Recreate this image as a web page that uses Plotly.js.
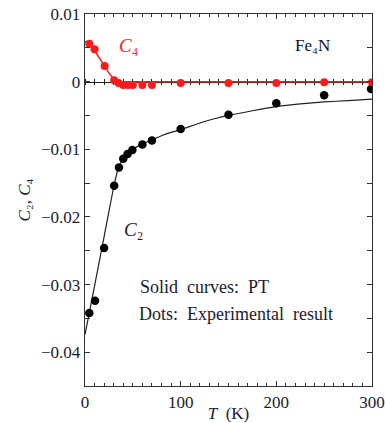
<!DOCTYPE html>
<html>
<head>
<meta charset="utf-8">
<script src="https://cdn.plot.ly/plotly-3.0.1.min.js"></script>
<style>html,body{margin:0;padding:0;background:#fff;}#chart{width:385px;height:423px;}</style>
</head>
<body>
<div id="chart"></div>
<script>
// Experimental dots
const c2T   = [4.5, 10.5, 20, 30.5, 35.5, 40, 44.5, 49.5, 60, 70, 100, 150, 200, 250, 299];
const c2Exp = [-0.0342, -0.0324, -0.0246, -0.0154, -0.0127, -0.0114, -0.0107, -0.0101, -0.0093, -0.0087, -0.0070, -0.0049, -0.0032, -0.0020, -0.0011];
const c4T   = [4.5, 10, 20.5, 30.5, 35, 40, 45, 50, 60, 70, 100, 150, 200, 250, 300];
const c4Exp = [0.0056, 0.0048, 0.0023, 0.0002, -0.0002, -0.0005, -0.0005, -0.0005, -0.0005, -0.0005, -0.0002, -0.0002, -0.0002, -0.0001, -0.0001];
// PT curves
const c2CurveT = [0, 10, 20, 30, 35, 40, 45, 50, 60, 70, 80, 90, 100, 125, 150, 175, 200, 225, 250, 275, 300];
const c2Curve  = [-0.0374, -0.0302, -0.0229, -0.0156, -0.0127, -0.0114, -0.0106, -0.0100, -0.0092, -0.0086, -0.0080, -0.0075, -0.0071, -0.0059, -0.0050, -0.0043, -0.0037, -0.0033, -0.0030, -0.0028, -0.0026];
const c4CurveT = [0, 5, 10, 15, 20, 25, 30, 35, 40, 50, 100, 150, 200, 250, 300];
const c4Curve  = [0.0059, 0.0055, 0.0046, 0.0035, 0.0024, 0.0013, 0.0004, 0.00005, 0, 0, 0, 0, 0, 0, 0];
// axes
const xRange = [0, 300];
const yRange = [-0.045, 0.01];

const serif = '"Liberation Serif", "Times New Roman", serif';
const frame = '#333';
const ink = '#1b1b2f';

const traces = [
  {x: c4T, y: c4Exp, xaxis: 'x2', mode: 'none', hoverinfo: 'skip', showlegend: false},
  {x: c4T, y: c4Exp, xaxis: 'x3', mode: 'none', hoverinfo: 'skip', showlegend: false},
  {x: c2CurveT, y: c2Curve, mode: 'lines', line: {color: '#222', width: 1.2, shape: 'spline', smoothing: 0.5}, showlegend: false},
  {x: c4CurveT, y: c4Curve, mode: 'lines', line: {color: '#ff1a1a', width: 1.5, shape: 'spline', smoothing: 0.4}, showlegend: false},
  {x: c2T, y: c2Exp, mode: 'markers', marker: {color: '#000', size: 8.5}, showlegend: false},
  {x: c4T, y: c4Exp, mode: 'markers', marker: {color: '#ff1a1a', size: 8}, showlegend: false}
];

const zeroPos = (0 - yRange[0]) / (yRange[1] - yRange[0]);
const zeroAxis = (side) => ({
  overlaying: 'x', anchor: 'free', position: zeroPos, side: side,
  range: xRange, dtick: 10, tick0: 0, ticks: 'outside', ticklen: 2.5, tickwidth: 1, tickcolor: '#222',
  showticklabels: false, showline: true, linecolor: '#222', linewidth: 1,
  showgrid: false, zeroline: false, layer: 'below traces', fixedrange: true
});

const layout = {
  width: 385, height: 423,
  margin: {l: 85, r: 13, t: 14, b: 37},
  paper_bgcolor: '#fff', plot_bgcolor: '#fff',
  showlegend: false,
  font: {family: serif, color: ink, size: 17},
  xaxis: {
    range: xRange, dtick: 100, tick0: 0,
    ticks: 'inside', ticklen: 5, tickwidth: 1, tickcolor: frame,
    minor: {dtick: 10, ticks: 'inside', ticklen: 3, tickcolor: frame},
    showline: true, linecolor: frame, linewidth: 1.3, mirror: 'allticks',
    showgrid: false, zeroline: false,
    tickfont: {family: serif, size: 17, color: ink},
    title: {text: '<i>T</i>\u00a0 (K)', font: {family: serif, size: 17, color: ink}, standoff: 4}
  },
  xaxis2: zeroAxis('bottom'),
  xaxis3: zeroAxis('top'),
  yaxis: {
    range: yRange, dtick: 0.01, tick0: 0,
    ticks: 'inside', ticklen: 5, tickwidth: 1, tickcolor: frame,
    minor: {dtick: 0.005, ticks: 'inside', ticklen: 4, tickcolor: frame},
    showline: true, linecolor: frame, linewidth: 1.3, mirror: 'allticks',
    showgrid: false, zeroline: false,
    tickfont: {family: serif, size: 17, color: ink},
    title: {text: '<i>C</i>\u2082, <i>C</i>\u2084', font: {family: serif, size: 17, color: ink}, standoff: 6}
  },
  annotations: [
    {x: 33, y: 0.0053, xref: 'x', yref: 'y', xanchor: 'left', yanchor: 'middle', showarrow: false,
     text: '<i>C</i>\u2084', font: {size: 19, color: '#ff2020', family: serif}},
    {x: 38.4, y: -0.0218, xref: 'x', yref: 'y', xanchor: 'left', yanchor: 'middle', showarrow: false,
     text: '<i>C</i>\u2082', font: {size: 19, color: ink, family: serif}},
    {x: 217, y: 0.0053, xref: 'x', yref: 'y', xanchor: 'left', yanchor: 'middle', showarrow: false,
     text: 'Fe\u2084N', font: {size: 17, color: '#111', family: serif}},
    {x: 55.7, y: -0.0303, xref: 'x', yref: 'y', xanchor: 'left', yanchor: 'middle', showarrow: false,
     text: 'Solid\u00a0 curves:\u00a0 PT', font: {size: 18, color: ink, family: serif}},
    {x: 54, y: -0.0343, xref: 'x', yref: 'y', xanchor: 'left', yanchor: 'middle', showarrow: false,
     text: 'Dots:\u00a0 Experimental\u00a0 result', font: {size: 18, color: ink, family: serif}}
  ]
};

Plotly.newPlot('chart', traces, layout, {staticPlot: true, displayModeBar: false});
</script>
</body>
</html>
